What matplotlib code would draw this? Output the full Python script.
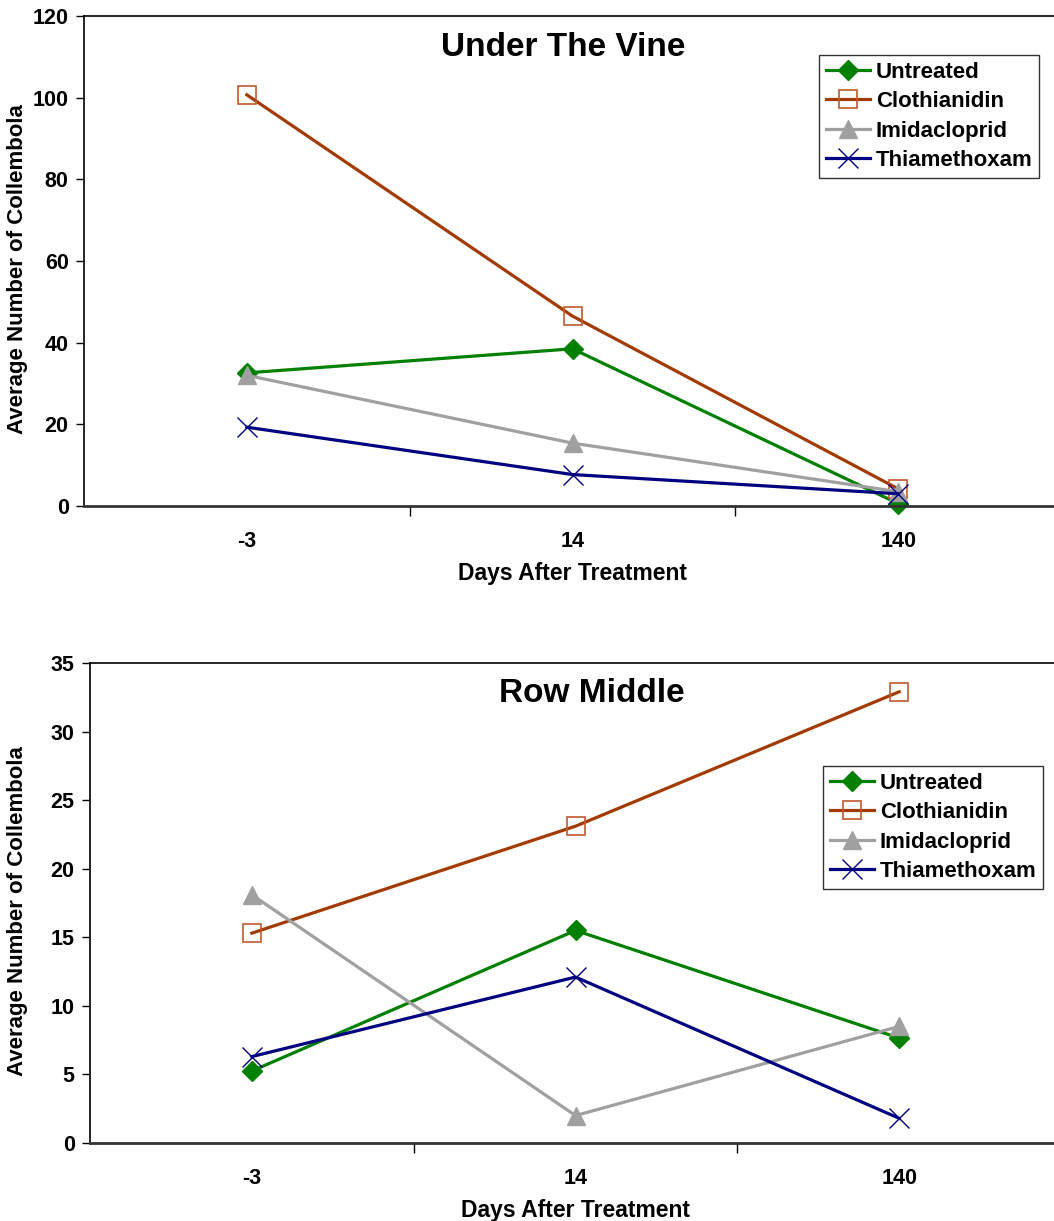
import matplotlib
matplotlib.use("Agg")
import matplotlib.pyplot as plt

plt.rcParams['font.family'] = ['Liberation Sans', 'DejaVu Sans']
plt.rcParams['font.weight'] = 'bold'

# data
days = ["-3", "14", "140"]
treatments = ["Untreated", "Clothianidin", "Imidacloprid", "Thiamethoxam"]

vine_untreated = [32.6, 38.5, 0.6]
vine_clothianidin = [100.7, 46.5, 4.2]
vine_imidacloprid = [32.0, 15.4, 3.5]
vine_thiamethoxam = [19.3, 7.7, 3.0]

row_untreated = [5.25, 15.5, 7.65]
row_clothianidin = [15.3, 23.1, 32.9]
row_imidacloprid = [18.1, 2.0, 8.5]
row_thiamethoxam = [6.3, 12.1, 1.8]

# styles
colors = ["#008000", "#A33B00", "#A0A0A0", "#000080"]
markers = ["D", "s", "^", "x"]
msizes = [10, 13, 13, 14]

fig = plt.figure(figsize=(10.54, 12.21), dpi=100)
W, H = 1054.0, 1221.0


def make_axes(left, top, bottom, right=1061):
    return fig.add_axes([left / W, 1 - bottom / H, (right - left) / W, (bottom - top) / H])


def draw(ax, series, title, ymax, ystep, title_xy, legend_box):
    x = list(range(len(days)))
    for vals, name, c, m, ms in zip(series, treatments, colors, markers, msizes):
        if m == "s":
            ax.plot(x, vals, color=c, lw=2.3, marker=m, ms=ms, mfc="none",
                    mec="#C05A30", mew=1.2, label=name, clip_on=False)
        elif m == "x":
            ax.plot(x, vals, color=c, lw=2.3, marker=m, ms=ms, mew=1.0,
                    label=name, clip_on=False)
        else:
            ax.plot(x, vals, color=c, lw=2.3, marker=m, ms=ms, mec=c,
                    label=name, clip_on=False)
    ax.set_xlim(-0.5, 2.5)
    ax.set_ylim(0, ymax)
    ax.set_yticks(range(0, ymax + 1, ystep))
    ax.set_xticks([0.5, 1.5])
    ax.set_xticklabels([])
    ax.set_xticks(x, minor=True)
    ax.set_xticklabels(days, minor=True)
    ax.tick_params(axis="x", which="major", length=7, width=1, direction="out")
    ax.tick_params(axis="x", which="minor", length=0, pad=18, labelsize=15.5)
    ax.tick_params(axis="y", length=6, width=1, direction="out", pad=5, labelsize=15.5)
    for lab in ax.get_xticklabels(minor=True) + ax.get_yticklabels():
        lab.set_fontweight("bold")
    ax.spines["right"].set_visible(False)
    ax.spines["left"].set_linewidth(1.2)
    ax.spines["top"].set_linewidth(1.2)
    ax.spines["bottom"].set_linewidth(2)
    ax.spines["bottom"].set_color("#333333")
    ax.set_xlabel("Days After Treatment", fontsize=16.5, fontweight="bold", labelpad=7)
    fig.text(title_xy[0] / W, 1 - title_xy[1] / H, title, fontsize=24,
             fontweight="bold", ha="center", va="center")
    leg = ax.legend(loc="upper left", bbox_to_anchor=(legend_box[0] / W, 1 - legend_box[1] / H),
                    bbox_transform=fig.transFigure, frameon=True, fancybox=False,
                    borderaxespad=0, borderpad=0.3, handlelength=2.0, handletextpad=0.25,
                    labelspacing=0.38, prop={"size": 16, "weight": "bold"})
    leg.get_frame().set_edgecolor("black")
    leg.get_frame().set_linewidth(1.0)
    fig.text(18 / W, (ax.get_position().y0 + ax.get_position().y1) / 2 - 8 / H,
             "Average Number of Collembola", rotation=90, fontsize=16,
             fontweight="bold", ha="center", va="center")


ax1 = make_axes(84, 16, 506)
draw(ax1, [vine_untreated, vine_clothianidin, vine_imidacloprid, vine_thiamethoxam],
     "Under The Vine", 120, 20, (563, 48), (819, 55))

ax2 = make_axes(90, 663, 1143)
draw(ax2, [row_untreated, row_clothianidin, row_imidacloprid, row_thiamethoxam],
     "Row Middle", 35, 5, (592, 694), (823, 766))

fig.savefig("out.png", dpi=100)
